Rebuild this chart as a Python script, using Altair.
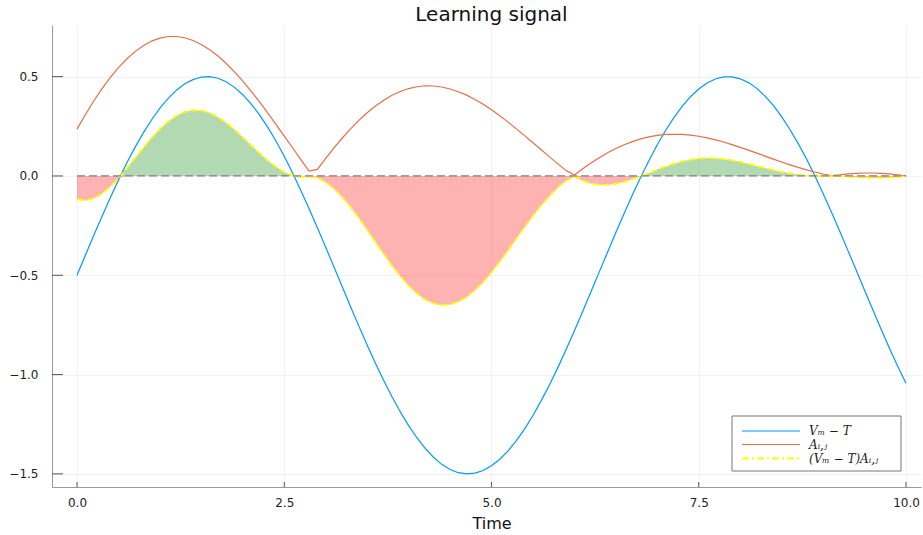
import altair as alt
import pandas as pd

# Sample times (step 0.1 s)
time = [i / 10 for i in range(101)]

# Membrane potential minus threshold
v_minus_t = [
    -0.500, -0.400, -0.301, -0.205, -0.111, -0.021, 0.065, 0.144, 0.217, 0.283,
    0.341, 0.391, 0.432, 0.464, 0.485, 0.498, 0.500, 0.492, 0.474, 0.446,
    0.409, 0.363, 0.309, 0.246, 0.176, 0.099, 0.016, -0.073, -0.165, -0.261,
    -0.359, -0.458, -0.558, -0.658, -0.756, -0.851, -0.943, -1.030, -1.112, -1.188,
    -1.257, -1.318, -1.372, -1.416, -1.452, -1.478, -1.494, -1.500, -1.496, -1.483,
    -1.459, -1.426, -1.384, -1.332, -1.273, -1.206, -1.131, -1.051, -0.965, -0.874,
    -0.779, -0.682, -0.583, -0.483, -0.384, -0.285, -0.189, -0.095, -0.006, 0.078,
    0.157, 0.229, 0.294, 0.350, 0.399, 0.438, 0.468, 0.488, 0.499, 0.499,
    0.489, 0.470, 0.441, 0.402, 0.355, 0.299, 0.234, 0.163, 0.085, 0.001,
    -0.088, -0.181, -0.277, -0.376, -0.475, -0.575, -0.674, -0.772, -0.867, -0.958,
    -1.044,
]

# Eligibility trace A_ij
eligibility = [
    0.236, 0.308, 0.376, 0.438, 0.495, 0.545, 0.589, 0.626, 0.656, 0.679,
    0.694, 0.702, 0.702, 0.696, 0.682, 0.662, 0.636, 0.604, 0.566, 0.524,
    0.477, 0.427, 0.374, 0.318, 0.260, 0.201, 0.142, 0.082, 0.024, 0.033,
    0.088, 0.141, 0.191, 0.237, 0.280, 0.318, 0.352, 0.381, 0.406, 0.425,
    0.440, 0.449, 0.454, 0.453, 0.448, 0.438, 0.424, 0.407, 0.385, 0.361,
    0.333, 0.303, 0.271, 0.237, 0.203, 0.167, 0.132, 0.096, 0.061, 0.027,
    0.005, 0.036, 0.065, 0.092, 0.117, 0.138, 0.157, 0.173, 0.187, 0.197,
    0.204, 0.209, 0.210, 0.209, 0.206, 0.200, 0.192, 0.182, 0.171, 0.158,
    0.144, 0.130, 0.115, 0.100, 0.085, 0.070, 0.056, 0.043, 0.031, 0.020,
    0.010, 0.002, 0.005, 0.010, 0.013, 0.015, 0.015, 0.013, 0.010, 0.006,
    0.000,
]

x_ticks = [0.0, 2.5, 5.0, 7.5, 10.0]
y_ticks = [-1.5, -1.0, -0.5, 0.0, 0.5]

series_labels = ["Vₘ − T", "Aᵢ,ⱼ", "(Vₘ − T)Aᵢ,ⱼ"]
series_colors = ["#009AFA", "#E26F46", "#FFFF00"]
series_dash = [[1, 0], [1, 0], [7, 3, 2, 3]]

# Learning signal = (V_m - T) * A_ij
signal = [v * a for v, a in zip(v_minus_t, eligibility)]

df = pd.DataFrame({
    "t": time,
    "v": v_minus_t,
    "a": eligibility,
    "s": signal,
    "pos": [max(s, 0.0) for s in signal],
    "neg": [min(s, 0.0) for s in signal],
})

W, H = 869, 462
FONT = "DejaVu Sans"
CX = W / 2 + 5  # horizontal centre used for the titles

x_scale = alt.Scale(domain=[-0.3016, 10.181], nice=False, zero=False)
y_scale = alt.Scale(domain=[-1.566, 0.760], nice=False, zero=False)

X = alt.X("t:Q", scale=x_scale, title="Time",
          axis=alt.Axis(values=x_ticks, format=".1f", ticks=False, grid=True,
                        labelPadding=10, labelFontSize=12, titleFontSize=16,
                        titlePadding=7, titleFontWeight="normal"))


def Y(field):
    return alt.Y(f"{field}:Q", scale=y_scale, title=None,
                 axis=alt.Axis(values=y_ticks, format=".1f", ticks=False, grid=True,
                               labelPadding=14, labelFontSize=12))


base = alt.Chart(df)

fill_pos = base.mark_area(color="green", opacity=0.3).encode(x=X, y=Y("pos"), y2=alt.datum(0))
fill_neg = base.mark_area(color="red", opacity=0.3).encode(x=X, y=Y("neg"), y2=alt.datum(0))

line_v = base.mark_line(color=series_colors[0], strokeWidth=1.2).encode(x=X, y=Y("v"))
line_a = base.mark_line(color=series_colors[1], strokeWidth=1.2).encode(x=X, y=Y("a"))
line_s = base.mark_line(color=series_colors[2], strokeWidth=1.8,
                        strokeDash=[7, 3]).encode(x=X, y=Y("s"))

zero_line = alt.Chart(pd.DataFrame({"t0": [time[0]], "t1": [time[-1]], "z": [0.0]})).mark_rule(
    color="#808080", strokeWidth=1.3, strokeDash=[8, 4]
).encode(x=alt.X("t0:Q", scale=x_scale), x2="t1:Q", y=alt.Y("z:Q", scale=y_scale))

# inward tick marks on the two spines
xt = alt.Chart(pd.DataFrame({"t": x_ticks})).mark_rule(color="#555", strokeWidth=1).encode(
    x=alt.X("t:Q", scale=x_scale), y=alt.value(H - 5), y2=alt.value(H))
yt = alt.Chart(pd.DataFrame({"y": y_ticks})).mark_rule(color="#555", strokeWidth=1).encode(
    y=alt.Y("y:Q", scale=y_scale), x=alt.value(0), x2=alt.value(11))

one = pd.DataFrame({"k": [0]})

# chart title
title = alt.Chart(one).mark_text(
    align="center", baseline="alphabetic", font=FONT, fontSize=20, color="#111"
).encode(x=alt.value(CX), y=alt.value(-4), text=alt.value("Learning signal"))

# legend box
LX, LY, LW, LH = 680, 391, 169, 55
box = alt.Chart(one).mark_rect(
    fill="white", stroke="#777", strokeWidth=1
).encode(x=alt.value(LX), x2=alt.value(LX + LW), y=alt.value(LY), y2=alt.value(LY + LH))

legend_layers = [box]
row_y = [406, 419.5, 433.5]
for lab, col, dash, ry in zip(series_labels, series_colors, series_dash, row_y):
    sw = 1.8 if col == "#FFFF00" else 1.2
    legend_layers.append(
        alt.Chart(one).mark_rule(color=col, strokeWidth=sw, strokeDash=dash)
        .encode(x=alt.value(LX + 10), x2=alt.value(LX + 68), y=alt.value(ry))
    )
    legend_layers.append(
        alt.Chart(one).mark_text(
            align="left", baseline="middle", font="DejaVu Serif", fontStyle="italic",
            fontSize=12, color="#222"
        ).encode(x=alt.value(LX + 77), y=alt.value(ry), text=alt.value(lab))
    )

chart = alt.layer(
    fill_pos, fill_neg, line_v, line_a, line_s, zero_line, xt, yt, title, *legend_layers
).properties(
    width=W, height=H,
    autosize=alt.AutoSizeParams(type="none"),
    padding={"left": 52, "top": 25, "right": 2, "bottom": 48},
).configure_view(stroke=None).configure_axis(
    labelFont=FONT, titleFont=FONT, labelColor="#222", titleColor="#111",
    domainColor="#999", domainWidth=1, gridColor="#000", gridOpacity=0.05,
).configure_axisX(titleX=CX)

chart.save("out.html", embed_options={"renderer": "svg", "actions": False})
